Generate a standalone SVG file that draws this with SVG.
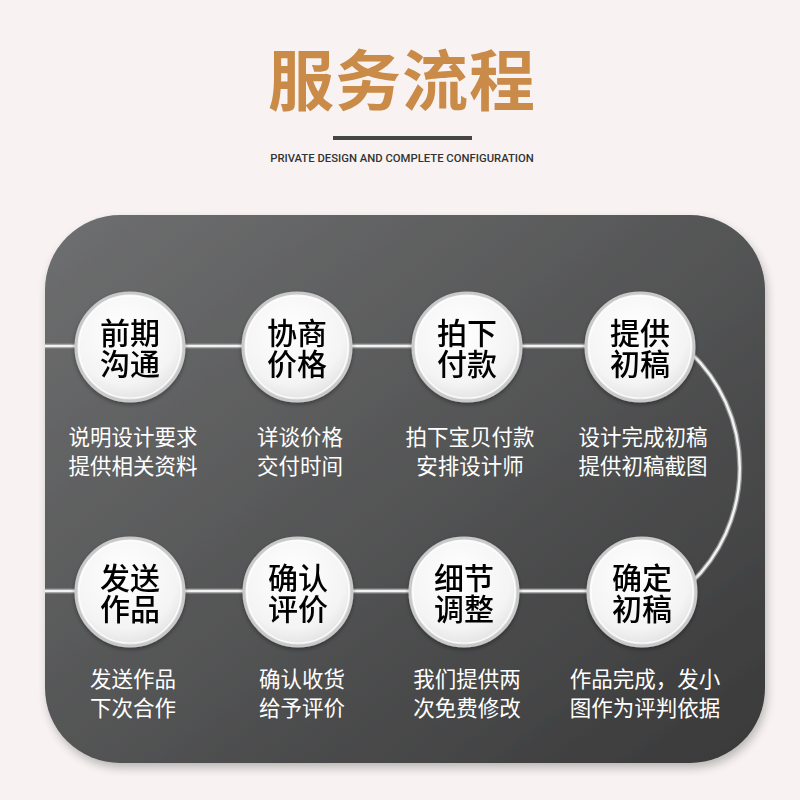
<svg xmlns="http://www.w3.org/2000/svg" width="800" height="800" viewBox="0 0 800 800">
<defs>
<linearGradient id="panel" x1="0" y1="0" x2="1" y2="1">
<stop offset="0" stop-color="#6e6f70"/>
<stop offset="0.5" stop-color="#545556"/>
<stop offset="1" stop-color="#393939"/>
</linearGradient>
<radialGradient id="ball" cx="0.45" cy="0.35" r="0.7">
<stop offset="0" stop-color="#ffffff"/>
<stop offset="0.7" stop-color="#f4f4f4"/>
<stop offset="1" stop-color="#dedede"/>
</radialGradient>
<filter id="sh" x="-10%" y="-10%" width="120%" height="125%">
<feGaussianBlur in="SourceAlpha" stdDeviation="5"/>
<feOffset dx="2" dy="5"/>
<feComponentTransfer><feFuncA type="linear" slope="0.25"/></feComponentTransfer>
<feMerge><feMergeNode/><feMergeNode in="SourceGraphic"/></feMerge>
</filter>
<filter id="bsh" x="-20%" y="-20%" width="140%" height="140%">
<feGaussianBlur in="SourceAlpha" stdDeviation="2"/>
<feOffset dx="0" dy="2"/>
<feComponentTransfer><feFuncA type="linear" slope="0.35"/></feComponentTransfer>
<feMerge><feMergeNode/><feMergeNode in="SourceGraphic"/></feMerge>
</filter>
</defs>
<style>
.ball{fill:url(#ball);stroke:#c9c9c9;stroke-width:3}
.hl{fill:none;stroke:#ffffff;stroke-width:1.2;opacity:0.9}
.lbl{font-family:"Noto Sans CJK SC","Noto Sans",sans-serif;font-size:30px;font-weight:500;fill:#000;text-anchor:middle}
.desc{font-family:"Noto Sans CJK SC","Noto Sans",sans-serif;font-size:21.5px;fill:#ffffff;text-anchor:middle}
.lineA{fill:none;stroke:#8f8f8f;stroke-width:5}
.lineB{fill:none;stroke:#f2f2f2;stroke-width:2.5}
</style>
<rect width="800" height="800" fill="#f8f3f2"/>
<text x="402" y="105" font-family="'Noto Sans CJK SC',sans-serif" font-size="66" font-weight="700" fill="#c98b47" text-anchor="middle" letter-spacing="1">服务流程</text>
<rect x="333" y="136" width="139" height="4" fill="#454545"/>
<text x="402" y="162" font-family="Roboto,'Liberation Sans',sans-serif" font-size="11.3" font-weight="500" fill="#333" text-anchor="middle">PRIVATE DESIGN AND COMPLETE CONFIGURATION</text>
<rect x="45" y="215" width="720" height="548" rx="75" ry="75" fill="url(#panel)" filter="url(#sh)"/>
<g id="connectors">
<path class="lineA" d="M45 346 H640 M45 591 H642 M690 352 A160 160 0 0 1 690 584"/>
<path class="lineB" d="M45 346 H640 M45 591 H642 M690 352 A160 160 0 0 1 690 584"/>
</g>
<g id="n1" filter="url(#bsh)"><circle class="ball" cx="130" cy="347" r="54"/><circle class="hl" cx="130" cy="347" r="51"/>
<text class="lbl" x="130" y="344">前期<tspan x="130" dy="31">沟通</tspan></text></g>
<g id="n2" filter="url(#bsh)"><circle class="ball" cx="297" cy="347" r="54"/><circle class="hl" cx="297" cy="347" r="51"/>
<text class="lbl" x="297" y="344">协商<tspan x="297" dy="31">价格</tspan></text></g>
<g id="n3" filter="url(#bsh)"><circle class="ball" cx="467" cy="347" r="54"/><circle class="hl" cx="467" cy="347" r="51"/>
<text class="lbl" x="467" y="344">拍下<tspan x="467" dy="31">付款</tspan></text></g>
<g id="n4" filter="url(#bsh)"><circle class="ball" cx="640" cy="347" r="54"/><circle class="hl" cx="640" cy="347" r="51"/>
<text class="lbl" x="640" y="344">提供<tspan x="640" dy="31">初稿</tspan></text></g>
<g id="n5" filter="url(#bsh)"><circle class="ball" cx="130" cy="592" r="54"/><circle class="hl" cx="130" cy="592" r="51"/>
<text class="lbl" x="130" y="589">发送<tspan x="130" dy="31">作品</tspan></text></g>
<g id="n6" filter="url(#bsh)"><circle class="ball" cx="298" cy="592" r="54"/><circle class="hl" cx="298" cy="592" r="51"/>
<text class="lbl" x="298" y="589">确认<tspan x="298" dy="31">评价</tspan></text></g>
<g id="n7" filter="url(#bsh)"><circle class="ball" cx="464" cy="592" r="54"/><circle class="hl" cx="464" cy="592" r="51"/>
<text class="lbl" x="464" y="589">细节<tspan x="464" dy="31">调整</tspan></text></g>
<g id="n8" filter="url(#bsh)"><circle class="ball" cx="642" cy="592" r="54"/><circle class="hl" cx="642" cy="592" r="51"/>
<text class="lbl" x="642" y="589">确定<tspan x="642" dy="31">初稿</tspan></text></g>
<g id="descs">
<text class="desc" x="133" y="445">说明设计要求</text><text class="desc" x="133" y="474">提供相关资料</text>
<text class="desc" x="300" y="445">详谈价格</text><text class="desc" x="300" y="474">交付时间</text>
<text class="desc" x="470" y="445">拍下宝贝付款</text><text class="desc" x="470" y="474">安排设计师</text>
<text class="desc" x="643" y="445">设计完成初稿</text><text class="desc" x="643" y="474">提供初稿截图</text>
<text class="desc" x="133" y="687">发送作品</text><text class="desc" x="133" y="716">下次合作</text>
<text class="desc" x="302" y="687">确认收货</text><text class="desc" x="302" y="716">给予评价</text>
<text class="desc" x="467" y="687">我们提供两</text><text class="desc" x="467" y="716">次免费修改</text>
<text class="desc" x="645" y="687">作品完成，发小</text><text class="desc" x="645" y="716">图作为评判依据</text>
</g>
</svg>
